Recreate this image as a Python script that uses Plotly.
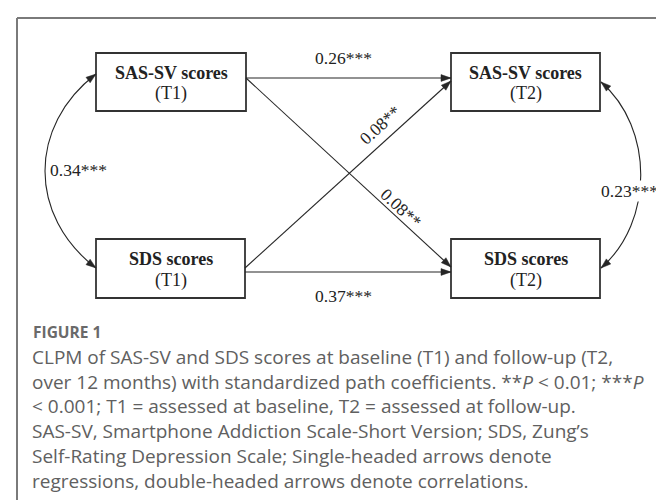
import math
import plotly.graph_objects as go

# ---------------- data ----------------
node_names = ["SAS-SV scores", "SDS scores"]
wave_labels = ["(T1)", "(T2)"]
path_coefs = [0.26, 0.37, 0.08, 0.08]       # SAS1->SAS2, SDS1->SDS2, SDS1->SAS2, SAS1->SDS2
path_sig = ["***", "***", "**", "**"]
corr_coefs = [0.34, 0.23]                   # T1 correlation, T2 correlation
corr_sig = ["***", "***"]
figure_label = "FIGURE 1"
caption_lines = [
    "CLPM of SAS-SV and SDS scores at baseline (T1) and follow-up (T2,",
    "over 12 months) with standardized path coefficients. **<i>P</i> &lt; 0.01; ***<i>P</i>",
    "&lt; 0.001; T1 = assessed at baseline, T2 = assessed at follow-up.",
    "SAS-SV, Smartphone Addiction Scale-Short Version; SDS, Zung\u2019s",
    "Self-Rating Depression Scale; Single-headed arrows denote",
    "regressions, double-headed arrows denote correlations.",
]

# ---------------- layout geometry ----------------
W, H = 664, 500
boxes = {
    (0, 0): (88, 45, 238, 103),
    (0, 1): (443, 45, 592, 103),
    (1, 0): (88, 231, 237, 290),
    (1, 1): (443, 231, 592, 290),
}
SERIF = "Liberation Serif, Times New Roman, serif"
LINE = "#262626"

fig = go.Figure()
shapes = []
annotations = []


def arrow(tail, tip, L=10.0, Wd=3.4):
    dx, dy = tip[0] - tail[0], tip[1] - tail[1]
    n = math.hypot(dx, dy)
    ux, uy = dx / n, dy / n
    bx, by = tip[0] - L * ux, tip[1] - L * uy
    px, py = -uy, ux
    return (f"M {tip[0]:.2f} {tip[1]:.2f} L {bx + Wd*px:.2f} {by + Wd*py:.2f} "
            f"L {bx - Wd*px:.2f} {by - Wd*py:.2f} Z")


def add_head(tail, tip):
    shapes.append(dict(type="path", path=arrow(tail, tip), xref="x", yref="y",
                       fillcolor=LINE, line=dict(color=LINE, width=0.5)))


def add_line(tail, tip):
    shapes.append(dict(type="line", x0=tail[0], y0=tail[1], x1=tip[0], y1=tip[1],
                       xref="x", yref="y", line=dict(color=LINE, width=1.1)))
    add_head(tail, tip)


# frame (top and left edges of the figure panel)
shapes.append(dict(type="line", x0=9, y0=10, x1=W + 5, y1=10, xref="x", yref="y",
                   line=dict(color="#7a7a7a", width=2)))
shapes.append(dict(type="line", x0=9, y0=10, x1=9, y1=H + 5, xref="x", yref="y",
                   line=dict(color="#7a7a7a", width=2)))

# boxes
for (r, c), (x0, y0, x1, y1) in boxes.items():
    shapes.append(dict(type="rect", x0=x0, y0=y0, x1=x1, y1=y1, xref="x", yref="y",
                       line=dict(color="#333333", width=1.8), fillcolor="white"))
    cx, cy = (x0 + x1) / 2, (y0 + y1) / 2
    annotations.append(dict(x=cx, y=cy - 9.5, text=f"<b>{node_names[r]}</b>",
                            showarrow=False, xref="x", yref="y",
                            font=dict(family=SERIF, size=18, color="#222")))
    annotations.append(dict(x=cx, y=cy + 11.5, text=wave_labels[c],
                            showarrow=False, xref="x", yref="y",
                            font=dict(family=SERIF, size=18, color="#222")))

# regression paths
paths = [((238, 70), (443, 70)),
         ((237, 264), (443, 264)),
         ((237, 260), (443, 73)),
         ((238, 70), (443, 259))]
for tail, tip in paths:
    add_line(tail, tip)

label_pos = [(335, 50, 0), (335, 288, 0), (372, 117, -42), (393, 200, 43)]
for (x, y, ang), v, s in zip(label_pos, path_coefs, path_sig):
    annotations.append(dict(x=x, y=y, text=f"{v:.2f}{s}", textangle=ang, showarrow=False,
                            xref="x", yref="y",
                            font=dict(family=SERIF, size=17.5, color="#222")))

# correlation curves
curves = [((88, 66), (20, 118), (20, 208), (88, 260)),
          ((593, 74), (646, 120), (646, 214), (593, 260))]
for p0, p1, p2, p3 in curves:
    shapes.append(dict(type="path",
                       path=f"M {p0[0]} {p0[1]} C {p1[0]} {p1[1]}, {p2[0]} {p2[1]}, {p3[0]} {p3[1]}",
                       xref="x", yref="y", line=dict(color=LINE, width=1.1)))
    add_head(p1, p0)
    add_head(p2, p3)

corr_pos = [(70, 162), (621, 183)]
for (x, y), v, s in zip(corr_pos, corr_coefs, corr_sig):
    annotations.append(dict(x=x, y=y, text=f"{v:.2f}{s}", showarrow=False,
                            xref="x", yref="y", bgcolor="white", borderpad=0,
                            font=dict(family=SERIF, size=17.5, color="#222")))

# caption
SANS = "Open Sans, Lato, sans-serif"
annotations.append(dict(x=23, y=324, text=f"<b>{figure_label}</b>", showarrow=False,
                        xref="x", yref="y", xanchor="left",
                        font=dict(family=SANS, size=15.5, color="#6a6a6a")))
annotations.append(dict(x=22, y=334, text="<br>".join(caption_lines), showarrow=False,
                        xref="x", yref="y", xanchor="left", yanchor="top", align="left",
                        font=dict(family=SANS, size=19, color="#606060")))

fig.update_layout(
    width=W, height=H,
    margin=dict(l=0, r=0, t=0, b=0),
    paper_bgcolor="white", plot_bgcolor="white",
    xaxis=dict(range=[0, W], visible=False, fixedrange=True),
    yaxis=dict(range=[H, 0], visible=False, fixedrange=True),
    shapes=shapes, annotations=annotations,
    showlegend=False,
)
fig.write_html("out.html")
